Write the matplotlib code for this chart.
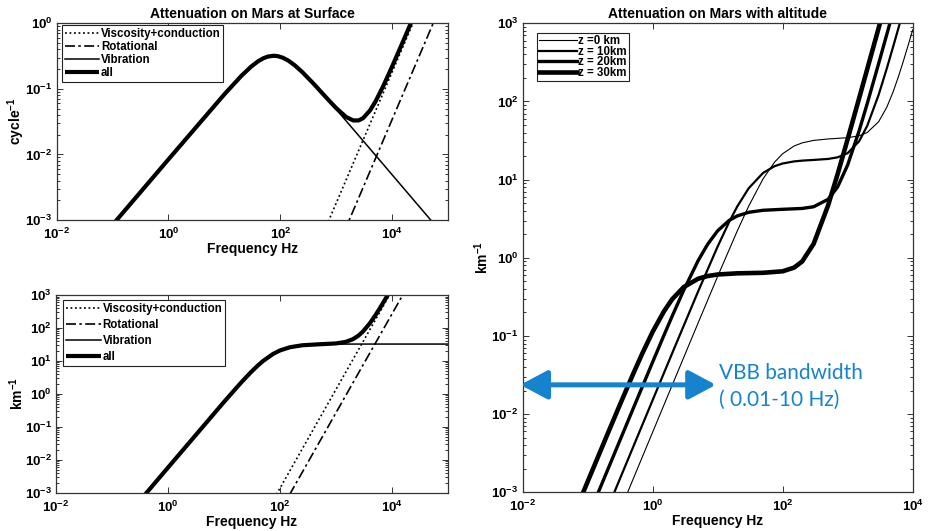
"""
Attenuation of sound on Mars -- surface vs. altitude (3 panels).
Curves are read off the reference figure, one point list per curve.
"""

import matplotlib
matplotlib.use("Agg")
import matplotlib.pyplot as plt
import numpy as np
from matplotlib.patches import FancyArrowPatch
from matplotlib.ticker import FixedLocator, LogLocator, NullFormatter, NullLocator

plt.rcParams["font.family"] = ["Liberation Sans", "DejaVu Sans"]
plt.rcParams["font.weight"] = "bold"
plt.rcParams["mathtext.fontset"] = "custom"
plt.rcParams["mathtext.rm"] = "Liberation Sans:bold"
plt.rcParams["mathtext.bf"] = "Liberation Sans:bold"
plt.rcParams["mathtext.it"] = "Liberation Sans:bold"

# ---------------------------------------------------------------------------
# Data -- top left: attenuation per cycle at the surface
# ---------------------------------------------------------------------------
freq_surf = [0.1, 1, 10, 20, 30, 40, 50, 60, 76, 90, 110, 140, 180, 250, 400,
             700, 1000, 1500, 2000, 2500, 3000, 4000, 5000, 7000, 1e4, 1.5e4,
             2e4, 3e4, 1e5]
vib_cycle = [8.42e-4, 0.00842, 0.0828, 0.1575, 0.2186, 0.2638, 0.2939, 0.3113,
             0.32, 0.3155, 0.2993, 0.2683, 0.2293, 0.1781, 0.1174, 0.0687,
             0.0484, 0.03235, 0.02429, 0.01944, 0.0162, 0.01216, 0.00973,
             0.00695, 0.00486, 0.00324, 0.00243, 0.00162, 4.86e-4]
all_cycle = [8.42e-4, 0.00842, 0.0828, 0.1575, 0.2186, 0.2638, 0.2939, 0.3113,
             0.32, 0.3155, 0.2993, 0.2683, 0.2293, 0.1781, 0.1177, 0.0698,
             0.0506, 0.0372, 0.0330, 0.0330, 0.0357, 0.0469, 0.0640, 0.1134,
             0.2221, 0.4920, 0.8713, 1.956, 21.7]
visc_cycle_f = [500, 3e4]
visc_cycle = [4.57e-4, 1.644]
rot_cycle_f = [1000, 1e5]
rot_cycle = [3.46e-4, 3.46]

# ---------------------------------------------------------------------------
# Data -- bottom left: attenuation per km at the surface
# ---------------------------------------------------------------------------
freq_km = [0.3, 1, 10, 20, 30, 40, 50, 75, 100, 150, 250, 500, 1000, 1500,
           2000, 2500, 3000, 4000, 5000, 6000, 8000, 1e4, 1e5]
vib_km = [5.2e-4, 5.778e-3, 0.5677, 2.158, 4.483, 7.197, 10.0, 16.25, 20.8,
          26.0, 29.82, 31.78, 32.32, 32.42, 32.46, 32.47, 32.48, 32.49, 32.49,
          32.5, 32.5, 32.5, 32.5]
all_km = [5.2e-4, 5.778e-3, 0.5677, 2.158, 4.483, 7.197, 10.0, 16.25, 20.8,
          26.0, 29.86, 31.99, 33.96, 37.96, 45.58, 58.1, 76.8, 137.5, 237.6,
          386.8, 872.3, 1672.7, 1.6e6]
visc_km_f = [50, 2e4]
visc_km = [1.715e-4, 10974]
rot_km_f = [100, 3e4]
rot_km = [2.686e-4, 7250]

# ---------------------------------------------------------------------------
# Data -- right: attenuation per km at four altitudes
# ---------------------------------------------------------------------------
freq_z0 = [0.3, 0.5, 1, 2, 5, 10, 20, 30, 50, 75, 100, 150, 200, 300, 500,
           1000, 1500, 2000, 3000, 4000, 5000, 6000, 7000, 8500, 1e4]
att_z0 = [5.30e-4, 1.471e-3, 5.883e-3, 0.02353, 0.1464, 0.5782, 2.200, 4.577,
          10.25, 16.72, 21.47, 26.92, 29.55, 31.77, 33.14, 34.40, 36.38,
          40.07, 55.11, 84.35, 132.5, 204.4, 304.8, 519.0, 823.8]
freq_z10 = [0.2, 0.5, 1, 2, 5, 10, 15, 20, 30, 50, 75, 100, 150, 200, 300,
            500, 700, 1000, 1500, 2000, 3000, 4000, 5000, 6500]
att_z10 = [6.05e-4, 3.78e-3, 0.01511, 0.06029, 0.3703, 1.395, 2.862, 4.528,
           7.750, 12.19, 14.86, 16.09, 17.10, 17.51, 17.87, 18.40, 19.28,
           21.83, 30.98, 48.80, 121.95, 264.4, 499.3, 1075]
freq_z20 = [0.1, 0.2, 0.5, 1, 1.5, 2, 3, 5, 7, 10, 15, 20, 30, 50, 100, 200,
            300, 500, 700, 1000, 1500, 2000, 3000, 4000, 5000]
att_z20 = [4.693e-4, 1.877e-3, 0.0117, 0.04641, 0.1030, 0.1797, 0.3838,
           0.9171, 1.486, 2.2165, 3.005, 3.432, 3.820, 4.055, 4.174, 4.280,
           4.498, 5.598, 8.041, 15.4, 42.0, 93.8, 306.6, 721, 1404]
freq_z30 = [0.05, 0.1, 0.2, 0.3, 0.5, 0.7, 1, 1.5, 2, 3, 5, 7, 10, 20, 50,
            100, 150, 200, 300, 500, 700, 1000, 1500, 2000, 3000, 3500]
att_z30 = [3.428e-4, 1.369e-3, 5.44e-3, 0.01211, 0.03255, 0.06083, 0.1130,
           0.2082, 0.2954, 0.4215, 0.5393, 0.5844, 0.6115, 0.6329, 0.6429,
           0.6720, 0.7489, 0.8984, 1.512, 4.678, 11.72, 32.94, 109.7, 259.0,
           872.7, 1385.5]
alt_labels = ["z =0 km", "z = 10km", "z = 20km", "z = 30km"]

vbb_band = [0.0092, 9.4]   # arrow ends, Hz
vbb_level = 0.0237

BLUE = "#1683cf"
DOTTED = (0, (1.1, 1.6))
DASHDOT = (0, (6, 2, 1.5, 2))


# ---------------------------------------------------------------------------
# Helpers
# ---------------------------------------------------------------------------

def _pow10(e):
    return r"$\mathbf{10^{%d}}$" % e


def estilo(ax, xlim, ylim, xexp, yexp):
    ax.set_xscale("log")
    ax.set_yscale("log")
    ax.set_xlim(*xlim)
    ax.set_ylim(*ylim)
    ax.xaxis.set_major_locator(FixedLocator([10.0 ** e for e in xexp]))
    ax.set_xticklabels([_pow10(e) for e in xexp])
    ax.yaxis.set_major_locator(FixedLocator([10.0 ** e for e in yexp]))
    ax.set_yticklabels([_pow10(e) for e in yexp])
    ax.xaxis.set_minor_locator(NullLocator())
    ax.yaxis.set_minor_locator(LogLocator(base=10, subs=np.arange(2, 10)))
    ax.yaxis.set_minor_formatter(NullFormatter())
    ax.tick_params(which="both", direction="in", top=True, right=True,
                   labelsize=9.5, color="#333333", width=0.7)
    ax.tick_params(axis="x", pad=5)
    ax.tick_params(axis="y", pad=3)
    ax.tick_params(which="major", length=4)
    ax.tick_params(which="minor", length=2)
    for sp in ax.spines.values():
        sp.set_color("#333333")
        sp.set_linewidth(0.9)
    ax.set_xlabel("Frequency Hz", fontsize=10, fontweight="bold", labelpad=0)


def leyenda(ax, anchor, spacing):
    leg = ax.legend(loc="upper left", bbox_to_anchor=anchor, borderaxespad=0,
                    fontsize=8.3, handlelength=3.0, handletextpad=0.15,
                    labelspacing=spacing, borderpad=0.25, fancybox=False,
                    framealpha=1, edgecolor="#222222")
    leg.get_frame().set_linewidth(0.8)
    return leg


# ---------------------------------------------------------------------------
# Panels
# ---------------------------------------------------------------------------

def panel_superficie(ax):
    ax.plot(visc_cycle_f, visc_cycle, color="k", lw=1.2, ls=DOTTED,
            label="Viscosity+conduction")
    ax.plot(rot_cycle_f, rot_cycle, color="k", lw=1.2, ls=DASHDOT,
            label="Rotational")
    ax.plot(freq_surf, vib_cycle, color="k", lw=1.1, label="Vibration")
    ax.plot(freq_surf, all_cycle, color="k", lw=3.0, label="all",
            solid_capstyle="butt")
    estilo(ax, (1e-2, 1e5), (1e-3, 1), [-2, 0, 2, 4], [-3, -2, -1, 0])
    ax.set_ylabel(r"$\mathbf{cycle^{-1}}$", fontsize=10, labelpad=-1)
    ax.set_title("Attenuation on Mars at Surface", fontsize=10,
                 fontweight="bold", pad=4)
    leyenda(ax, (0.013, 0.992), 0.1)


def panel_km(ax):
    ax.plot(visc_km_f, visc_km, color="k", lw=1.2, ls=DOTTED,
            label="Viscosity+conduction")
    ax.plot(rot_km_f, rot_km, color="k", lw=1.2, ls=DASHDOT,
            label="Rotational")
    ax.plot(freq_km, vib_km, color="k", lw=1.1, label="Vibration")
    ax.plot(freq_km, all_km, color="k", lw=3.0, label="all",
            solid_capstyle="butt")
    estilo(ax, (1e-2, 1e5), (1e-3, 1e3), [-2, 0, 2, 4], list(range(-3, 4)))
    ax.set_ylabel(r"$\mathbf{km^{-1}}$", fontsize=10, labelpad=-1)
    leyenda(ax, (0.019, 0.975), 0.35)


def panel_altitud(ax):
    series = [(freq_z0, att_z0, 0.8), (freq_z10, att_z10, 1.6),
              (freq_z20, att_z20, 2.4), (freq_z30, att_z30, 3.3)]
    for (f, a, lw), lab in zip(series, alt_labels):
        ax.plot(f, a, color="k", lw=lw, label=lab)
    estilo(ax, (1e-2, 1e4), (1e-3, 1e3), [-2, 0, 2, 4], list(range(-3, 4)))
    ax.set_ylabel(r"$\mathbf{km^{-1}}$", fontsize=10, labelpad=0)
    ax.set_title("Attenuation on Mars with altitude", fontsize=10,
                 fontweight="bold", pad=4)
    leg = ax.legend(loc="upper left", bbox_to_anchor=(0.036, 0.98),
                    borderaxespad=0, fontsize=8.3, handlelength=3.3,
                    handletextpad=0.1, labelspacing=-0.12, borderpad=0.2,
                    fancybox=False, framealpha=1, edgecolor="#222222")
    leg.get_frame().set_linewidth(0.8)

    flecha = FancyArrowPatch((vbb_band[0], vbb_level), (vbb_band[1], vbb_level),
                             arrowstyle="<|-|>,head_length=0.75,head_width=0.4",
                             mutation_scale=22, lw=3.6, color=BLUE,
                             shrinkA=0, shrinkB=0, clip_on=False, zorder=5)
    ax.add_patch(flecha)
    ax.text(0.503, 0.241, "VBB bandwidth", transform=ax.transAxes,
            fontsize=15, color=BLUE, family=["Lato", "DejaVu Sans"],
            fontweight="normal", va="baseline", ha="left")
    ax.text(0.503, 0.184, "( 0.01-10 Hz)", transform=ax.transAxes,
            fontsize=15, color=BLUE, family=["Lato", "DejaVu Sans"],
            fontweight="normal", va="baseline", ha="left")


# ---------------------------------------------------------------------------
# MAIN
# ---------------------------------------------------------------------------

def main():
    fig = plt.figure(figsize=(9.29, 5.31), dpi=100)
    ax_sup = fig.add_axes([0.0609, 0.5857, 0.4216, 0.3704])
    ax_km = fig.add_axes([0.0602, 0.0721, 0.4221, 0.3723])
    ax_alt = fig.add_axes([0.5626, 0.0729, 0.4198, 0.8832])

    panel_superficie(ax_sup)
    panel_km(ax_km)
    panel_altitud(ax_alt)

    fig.savefig("out.png", dpi=100)
    plt.close(fig)


if __name__ == "__main__":
    main()
